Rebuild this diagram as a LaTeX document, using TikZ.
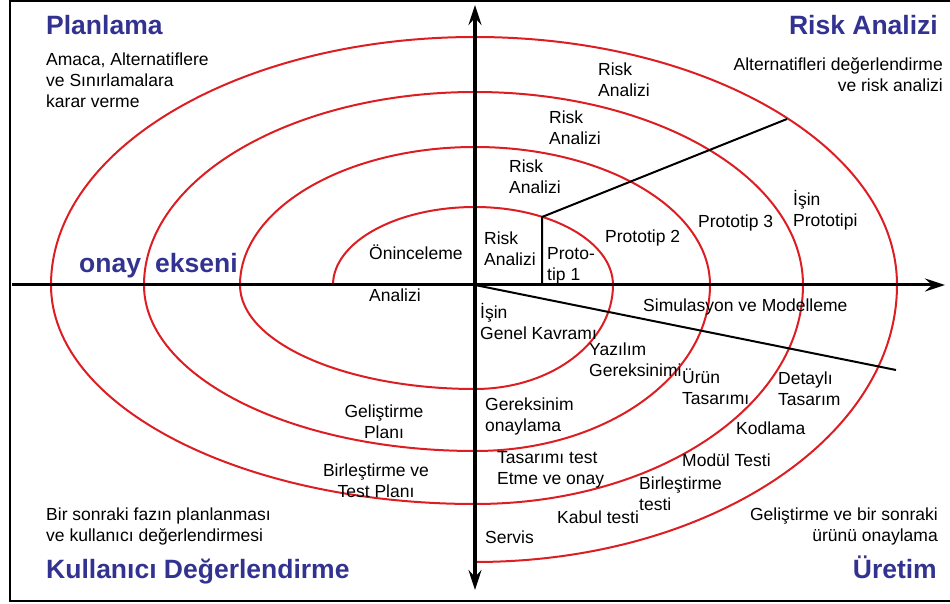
\documentclass[tikz,border=0pt]{standalone}
\usepackage{fontspec}
\setmainfont{Liberation Sans}
\usetikzlibrary{arrows.meta}

\definecolor{titleblue}{RGB}{50,50,145}
\definecolor{spiralred}{RGB}{220,30,35}

\tikzset{
  lbl/.style={font=\fontsize{17.5}{21}\selectfont, inner sep=0pt, align=left},
  ttl/.style={font=\fontsize{26.5}{32}\selectfont\bfseries, text=titleblue, inner sep=0pt},
  axis/.style={line width=3pt, -{Stealth[length=20pt,width=13pt,inset=7pt]}},
  spiral/.style={draw=spiralred, line width=2pt, line cap=round},
  sep/.style={line width=2pt}
}

\begin{document}
\begin{tikzpicture}[x=1pt, y=1pt]
\useasboundingbox (-475,285) rectangle (475,-319);

% Frame (open on the right)
\draw[line width=2pt] (475,284) -- (-465,284) -- (-465,-316) -- (475,-316);

% Spiral, one quarter of an ellipse at a time
\foreach \a/\rx/\ry in {180/142/78, 90/138/78, 0/138/104, 270/235/104,
                        180/235/138, 90/235/138, 0/235/166, 270/331/166,
                        180/331/193, 90/328/193, 0/328/219, 270/424/219,
                        180/424/248, 90/422/248, 0/422/277} {
    \draw[spiral] ({\rx*cos(\a)},{\ry*sin(\a)}) arc[start angle=\a, delta angle=-90, x radius=\rx, y radius=\ry];
}

% Axes
\coordinate (o) at (0,0);
\coordinate (xl) at (-463,0);
\coordinate (xr) at (470,0);
\coordinate (yt) at (0,280);
\coordinate (yb) at (0,-305);
\draw[axis] (xl) -- (xr);
\draw[axis, {Stealth[length=20pt,width=13pt,inset=7pt]}-{Stealth[length=20pt,width=13pt,inset=7pt]}] (yb) -- (yt);

% Prototype and simulation lines
\coordinate (pfoot) at (67,0);
\coordinate (pcorner) at (67,68);
\coordinate (pend) at (312,166);
\coordinate (send) at (421,-85);
\draw[sep] (pfoot) -- (pcorner) -- (pend);
\draw[sep] (o) -- (send);

% Quadrant titles
\node[ttl, anchor=base west] (plan) at (-429,250) {Planlama};
\node[ttl, anchor=base east] (risk) at (463,250) {Risk Analizi};
\node[ttl, anchor=base west] (kull) at (-429,-293) {Kullanıcı Değerlendirme};
\node[ttl, anchor=base east] (uret) at (462,-293) {Üretim};
\node[ttl, anchor=base west] (onay) at (-396,12) {onay};
\node[ttl, anchor=base west] (eksen) at (-320,12) {ekseni};

% Quadrant notes
\node[lbl, anchor=west] (amaca) at (-429,205) {Amaca, Alternatiflere\\ve Sınırlamalara\\karar verme};
\node[lbl, anchor=east, align=right] (altern) at (468,210) {Alternatifleri değerlendirme\\ve risk analizi};
\node[lbl, anchor=west] (sonraki) at (-429,-241) {Bir sonraki fazın planlanması\\ve kullanıcı değerlendirmesi};
\node[lbl, anchor=east, align=right] (onayla) at (463,-241) {Geliştirme ve bir sonraki\\ürünü onaylama};

% Top right
\node[lbl, anchor=west] (risk4) at (123,205) {Risk\\Analizi};
\node[lbl, anchor=west] (risk3) at (74,157) {Risk\\Analizi};
\node[lbl, anchor=west] (risk2) at (34,108) {Risk\\Analizi};
\node[lbl, anchor=west] (risk1) at (9,36) {Risk\\Analizi};
\node[lbl, anchor=west] (proto1) at (72,19) {Proto-\\tip 1};
\node[lbl, anchor=base west] (proto2) at (130,42) {Prototip 2};
\node[lbl, anchor=base west] (proto3) at (223,57) {Prototip 3};
\node[lbl, anchor=west] (isproto) at (318,75) {İşin\\Prototipi};

% Top left
\node[lbl, anchor=base west] (onince) at (-106,25) {Öninceleme};
\node[lbl, anchor=base west] (analiz) at (-106,-17) {Analizi};

% Bottom right
\node[lbl, anchor=west] (kavram) at (5,-36) {İşin\\Genel Kavramı};
\node[lbl, anchor=base west] (simul) at (168,-27) {Simulasyon ve Modelleme};
\node[lbl, anchor=west] (yazilim) at (114,-75) {Yazılım\\Gereksinimi};
\node[lbl, anchor=west] (urun) at (207,-102) {Ürün\\Tasarımı};
\node[lbl, anchor=west] (detay) at (303,-104) {Detaylı\\Tasarım};
\node[lbl, anchor=west] (gerek) at (10,-131) {Gereksinim\\onaylama};
\node[lbl, anchor=base west] (kodla) at (261,-150) {Kodlama};
\node[lbl, anchor=west] (tasar) at (22,-185) {Tasarımı test\\Etme ve onay};
\node[lbl, anchor=base west] (modul) at (207,-182) {Modül Testi};
\node[lbl, anchor=west] (birtst) at (164,-209) {Birleştirme\\testi};
\node[lbl, anchor=base west] (kabul) at (82,-238) {Kabul testi};
\node[lbl, anchor=base west] (servis) at (10,-258) {Servis};

% Bottom left
\node[lbl, align=center] (gelplan) at (-91,-137) {Geliştirme\\Planı};
\node[lbl, align=center] (testplan) at (-99,-196) {Birleştirme ve\\Test Planı};

\end{tikzpicture}
\end{document}
